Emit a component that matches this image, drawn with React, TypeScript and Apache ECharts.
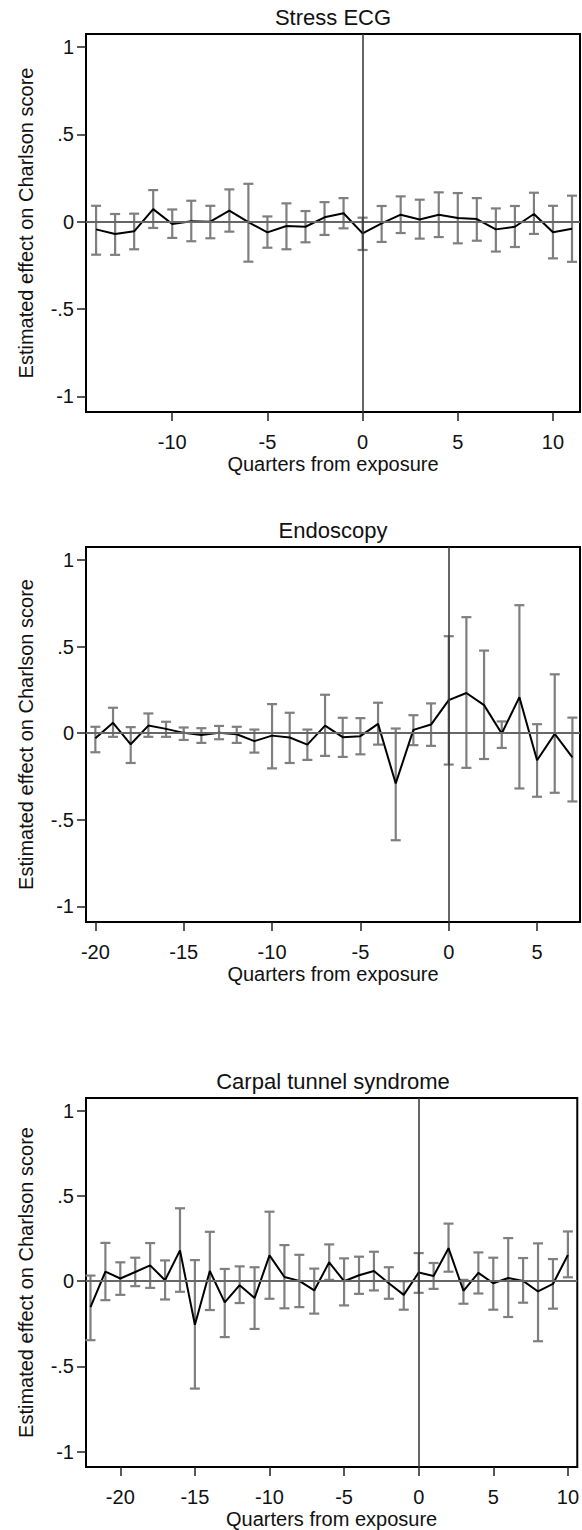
import React, { useEffect, useRef } from "react";
import * as echarts from "echarts";

// Panel titles
const titles = ["Stress ECG", "Endoscopy", "Carpal tunnel syndrome"];
const yTickValues = [-1, -0.5, 0, 0.5, 1];
const xTicks1 = [-10, -5, 0, 5, 10];
const xTicks2 = [-20, -15, -10, -5, 0, 5];
const xTicks3 = [-20, -15, -10, -5, 0, 5, 10];

// Panel 1: Stress ECG (quarters -14..11)
const x1 = [-14, -13, -12, -11, -10, -9, -8, -7, -6, -5, -4, -3, -2, -1, 0, 1, 2, 3, 4, 5, 6, 7, 8, 9, 10, 11];
const est1 = [-0.044, -0.07, -0.055, 0.072, -0.013, 0.002, 0.0, 0.063, -0.003, -0.061, -0.025, -0.029, 0.025, 0.048, -0.067, -0.01, 0.04, 0.013, 0.04, 0.021, 0.015, -0.044, -0.029, 0.044, -0.061, -0.04];
const lo1 = [-0.189, -0.19, -0.158, -0.036, -0.093, -0.112, -0.095, -0.057, -0.229, -0.149, -0.158, -0.118, -0.076, -0.038, -0.162, -0.116, -0.065, -0.097, -0.088, -0.124, -0.109, -0.171, -0.145, -0.07, -0.21, -0.23];
const hi1 = [0.091, 0.044, 0.046, 0.181, 0.07, 0.12, 0.091, 0.185, 0.217, 0.03, 0.105, 0.061, 0.112, 0.135, 0.023, 0.09, 0.145, 0.126, 0.168, 0.164, 0.135, 0.076, 0.09, 0.166, 0.091, 0.149];

// Panel 2: Endoscopy (quarters -20..7)
const x2 = [-20, -19, -18, -17, -16, -15, -14, -13, -12, -11, -10, -9, -8, -7, -6, -5, -4, -3, -2, -1, 0, 1, 2, 3, 4, 5, 6, 7];
const est2 = [-0.029, 0.06, -0.064, 0.044, 0.025, 0.002, -0.01, 0.002, -0.006, -0.046, -0.014, -0.025, -0.066, 0.044, -0.023, -0.017, 0.054, -0.29, 0.019, 0.05, 0.191, 0.232, 0.162, -0.002, 0.208, -0.156, -0.004, -0.14];
const lo2 = [-0.11, -0.021, -0.172, -0.021, -0.021, -0.039, -0.056, -0.035, -0.056, -0.112, -0.203, -0.172, -0.154, -0.131, -0.137, -0.122, -0.066, -0.618, -0.069, -0.073, -0.181, -0.2, -0.149, -0.085, -0.319, -0.367, -0.344, -0.394];
const hi2 = [0.037, 0.147, 0.035, 0.114, 0.066, 0.033, 0.029, 0.042, 0.037, 0.021, 0.168, 0.118, 0.021, 0.222, 0.089, 0.087, 0.176, 0.027, 0.104, 0.172, 0.56, 0.67, 0.477, 0.068, 0.739, 0.052, 0.34, 0.09];

// Panel 3: Carpal tunnel syndrome (quarters -22..10)
const x3 = [-22, -21, -20, -19, -18, -17, -16, -15, -14, -13, -12, -11, -10, -9, -8, -7, -6, -5, -4, -3, -2, -1, 0, 1, 2, 3, 4, 5, 6, 7, 8, 9, 10];
const est3 = [-0.152, 0.056, 0.016, 0.054, 0.093, 0.006, 0.181, -0.255, 0.06, -0.124, -0.023, -0.099, 0.152, 0.025, 0.002, -0.054, 0.111, 0.0, 0.035, 0.06, -0.012, -0.08, 0.051, 0.031, 0.194, -0.056, 0.049, -0.012, 0.019, 0.002, -0.06, -0.016, 0.154];
const lo3 = [-0.346, -0.111, -0.08, -0.029, -0.039, -0.107, -0.062, -0.63, -0.169, -0.328, -0.128, -0.28, -0.103, -0.159, -0.152, -0.19, 0.008, -0.142, -0.074, -0.054, -0.103, -0.167, -0.068, -0.045, 0.056, -0.132, -0.072, -0.167, -0.21, -0.126, -0.352, -0.161, 0.023];
const hi3 = [0.033, 0.225, 0.111, 0.138, 0.224, 0.122, 0.428, 0.124, 0.29, 0.072, 0.087, 0.082, 0.408, 0.212, 0.155, 0.074, 0.216, 0.134, 0.144, 0.173, 0.082, 0.0, 0.165, 0.107, 0.338, 0.008, 0.169, 0.138, 0.253, 0.136, 0.222, 0.13, 0.292];

const FONT = "'Liberation Sans', Arial, sans-serif";

const panels = [
  { title: titles[0], xs: x1, est: est1, lo: lo1, hi: hi1, xTicks: xTicks1, xMin: -14.53, xMax: 11.42, top: 34, height: 378 },
  { title: titles[1], xs: x2, est: est2, lo: lo2, hi: hi2, xTicks: xTicks2, xMin: -20.53, xMax: 7.43, top: 547, height: 375 },
  { title: titles[2], xs: x3, est: est3, lo: lo3, hi: hi3, xTicks: xTicks3, xMin: -22.3, xMax: 10.63, top: 1098, height: 372 },
];

const fmtY = (v: number) => {
  if (v === 0) return "0";
  const s = String(v);
  return s.replace("0.", ".");
};

export default function App() {
  const ref = useRef<HTMLDivElement>(null);
  useEffect(() => {
    document.body.style.margin = "0";
    if (!ref.current) return;
    const chart = echarts.init(ref.current, null, { renderer: "svg" });
    const LEFT = 86;
    const WIDTH = 494;

    const grids = panels.map((p) => ({
      left: LEFT,
      top: p.top,
      width: WIDTH,
      height: p.height,
      show: true,
      borderColor: "#000",
      borderWidth: 2,
      backgroundColor: "#fff",
    }));

    const xAxes = panels.map((p, i) => ({
      type: "value",
      gridIndex: i,
      min: p.xMin,
      max: p.xMax,
      name: "Quarters from exposure",
      nameLocation: "middle",
      nameGap: 42,
      nameTextStyle: { fontSize: 20, fontFamily: FONT, color: "#111" },
      axisLine: { show: false, onZero: false },
      splitLine: { show: false },
      axisTick: { show: true, length: 9, lineStyle: { color: "#222", width: 1.5 }, customValues: p.xTicks },
      axisLabel: { fontSize: 20, fontFamily: FONT, color: "#111", margin: 20, customValues: p.xTicks, formatter: (v: number) => String(v) },
    }));

    const yAxes = panels.map((p, i) => ({
      type: "value",
      gridIndex: i,
      min: -1.09,
      max: 1.075,
      name: "Estimated effect on Charlson score",
      nameLocation: "middle",
      nameGap: 50,
      nameTextStyle: { fontSize: 20, fontFamily: FONT, color: "#111" },
      axisLine: { show: false, onZero: false },
      splitLine: { show: false },
      axisTick: { show: true, length: 9, lineStyle: { color: "#222", width: 1.5 }, customValues: yTickValues },
      axisLabel: { fontSize: 20, fontFamily: FONT, color: "#111", margin: 12, customValues: yTickValues, formatter: fmtY },
    }));

    const series: any[] = [];
    panels.forEach((p, i) => {
      series.push({
        type: "custom",
        xAxisIndex: i,
        yAxisIndex: i,
        silent: true,
        encode: { x: 0, y: [1, 2] },
        data: p.xs.map((x, j) => [x, p.lo[j], p.hi[j]]),
        renderItem: (_params: any, api: any) => {
          const x = api.value(0);
          const pl = api.coord([x, api.value(1)]);
          const ph = api.coord([x, api.value(2)]);
          const w = 5;
          const style = { stroke: "#7f7f7f", lineWidth: 2.2 };
          return {
            type: "group",
            children: [
              { type: "line", shape: { x1: pl[0], y1: pl[1], x2: ph[0], y2: ph[1] }, style },
              { type: "line", shape: { x1: pl[0] - w, y1: pl[1], x2: pl[0] + w, y2: pl[1] }, style },
              { type: "line", shape: { x1: ph[0] - w, y1: ph[1], x2: ph[0] + w, y2: ph[1] }, style },
            ],
          };
        },
        z: 2,
      });
      series.push({
        type: "line",
        xAxisIndex: i,
        yAxisIndex: i,
        data: p.xs.map((x, j) => [x, p.est[j]]),
        symbol: "none",
        silent: true,
        lineStyle: { color: "#000", width: 2 },
        z: 3,
        markLine: {
          silent: true,
          symbol: "none",
          label: { show: false },
          animation: false,
          data: [
            { yAxis: 0, lineStyle: { color: "#666", width: 2, type: "solid" } },
            { xAxis: 0, lineStyle: { color: "#333", width: 1.5, type: "solid" } },
          ],
        },
      });
    });

    const graphic = panels.map((p) => ({
      type: "text",
      x: LEFT + WIDTH / 2,
      y: p.top - 17,
      style: {
        text: p.title,
        textAlign: "center",
        textVerticalAlign: "middle",
        fontSize: 22,
        fontFamily: FONT,
        fill: "#111",
      },
    }));

    chart.setOption({
      animation: false,
      backgroundColor: "#fff",
      grid: grids,
      xAxis: xAxes,
      yAxis: yAxes,
      series,
      graphic,
    });
    return () => chart.dispose();
  }, []);
  return <div ref={ref} style={{ width: 582, height: 1530 }} />;
}
